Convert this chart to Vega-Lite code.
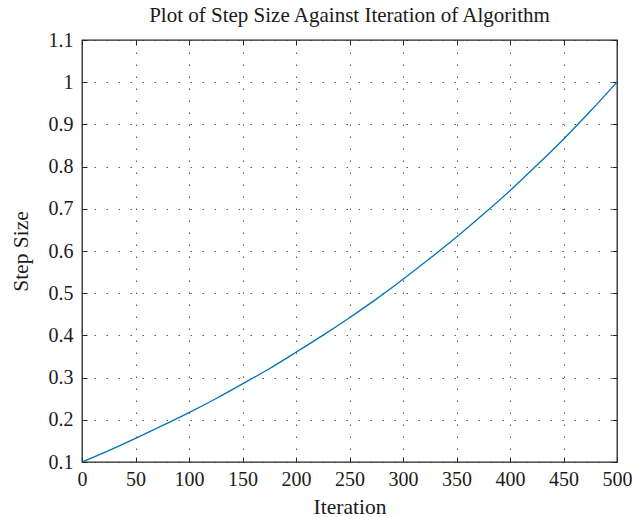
{
  "$schema": "https://vega.github.io/schema/vega-lite/v6.json",
  "autosize": "none",
  "width": 535,
  "height": 422,
  "padding": {"left": 82, "top": 40, "right": 15, "bottom": 55},
  "background": "white",
  "title": {"text": "Plot of Step Size Against Iteration of Algorithm", "font": "Liberation Serif", "fontSize": 21, "fontWeight": "normal", "color": "#1a1a1a", "offset": 4},
  "config": {
    "view": {"stroke": "#262626", "strokeWidth": 1.3},
    "axis": {"labelFont": "Liberation Serif", "titleFont": "Liberation Serif", "labelFontSize": 20, "titleFontSize": 21.5, "titleFontWeight": "normal", "labelColor": "#1a1a1a", "titleColor": "#1a1a1a", "domain": false, "tickColor": "#262626", "tickWidth": 1, "tickSize": -5, "labelFlush": false, "grid": true, "gridDash": [1.5, 10.5], "gridColor": "#333333", "gridOpacity": 0.8, "gridWidth": 1}
  },
  "data": {"values": [
    {"it": 0, "s": 0.100}, {"it": 25, "s": 0.127}, {"it": 50, "s": 0.156}, {"it": 75, "s": 0.186},
    {"it": 100, "s": 0.217}, {"it": 125, "s": 0.250}, {"it": 150, "s": 0.285}, {"it": 175, "s": 0.321},
    {"it": 200, "s": 0.360}, {"it": 225, "s": 0.400}, {"it": 250, "s": 0.442}, {"it": 275, "s": 0.486},
    {"it": 300, "s": 0.533}, {"it": 325, "s": 0.582}, {"it": 350, "s": 0.633}, {"it": 375, "s": 0.687},
    {"it": 400, "s": 0.743}, {"it": 425, "s": 0.803}, {"it": 450, "s": 0.865}, {"it": 475, "s": 0.931},
    {"it": 500, "s": 1.000}
  ]},
  "layer": [
    {
      "mark": {"type": "line", "color": "#0072BD", "strokeWidth": 1.3, "interpolate": "monotone"},
      "encoding": {
        "x": {"field": "it", "type": "quantitative", "scale": {"domain": [0, 500], "nice": false}, "axis": {"title": "Iteration", "values": [0,50,100,150,200,250,300,350,400,450,500], "labelPadding": 12, "titlePadding": 7, "format": "d"}},
        "y": {"field": "s", "type": "quantitative", "scale": {"domain": [0.1, 1.1], "nice": false, "zero": false}, "axis": {"title": "Step Size", "values": [0.1,0.2,0.3,0.4,0.5,0.6,0.7,0.8,0.9,1,1.1], "format": "~g", "labelPadding": 14, "titlePadding": 16}}
      }
    },
    {
      "mark": {"type": "line", "opacity": 0},
      "encoding": {
        "x": {"field": "it", "type": "quantitative", "axis": {"orient": "top", "labels": false, "title": null, "grid": false, "values": [0,50,100,150,200,250,300,350,400,450,500]}},
        "y": {"field": "s", "type": "quantitative", "axis": {"orient": "right", "labels": false, "title": null, "grid": false, "values": [0.1,0.2,0.3,0.4,0.5,0.6,0.7,0.8,0.9,1,1.1]}}
      }
    }
  ],
  "resolve": {"axis": {"x": "independent", "y": "independent"}}
}
